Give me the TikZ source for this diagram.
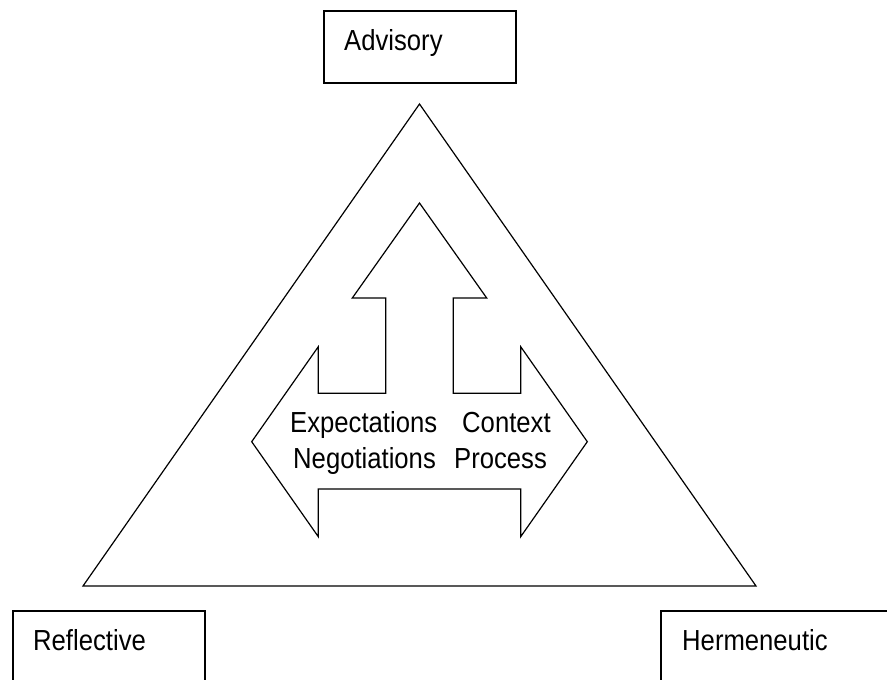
\documentclass[tikz,border=0pt]{standalone}
\usepackage{fontspec}
\setmainfont{Liberation Sans}[FakeStretch=0.885]
\begin{document}
\begin{tikzpicture}[x=1pt,y=-1pt,
  outline/.style={draw=black,line width=1.2pt,line join=miter},
  box/.style={draw=black,line width=1.6pt,anchor=north west,inner sep=0pt,minimum width=192pt,minimum height=72pt},
  lbl/.style={anchor=base west,inner sep=0pt,font=\fontsize{29}{35}\selectfont}]
\useasboundingbox (0,0) rectangle (887,680);
\clip (0,0) rectangle (887,680);
% boxes
\node[box] (advbox) at (323,10) {};
\node[box] (refbox) at (12,610) {};
\node[box,minimum width=260pt] (herbox) at (660,610) {};
\node[lbl] (adv) at (344,50) {Advisory};
\node[lbl] (ref) at (33,650) {Reflective};
\node[lbl] (her) at (682,650) {Hermeneutic};
% triangle
\coordinate (apex) at (419.5,104);
\coordinate (bl) at (83,586);
\coordinate (br) at (756,586);
\draw[outline] (apex) -- (bl) -- (br) -- cycle;
% three-way arrow
\draw[outline] (419.5,203) -- (352.3,298) -- (385.7,298) -- (385.7,393.3)
  -- (318.3,393.3) -- (318.3,346.7) -- (251.7,441.7) -- (318.3,536.7)
  -- (318.3,489) -- (520.7,489) -- (520.7,536.7) -- (587.3,441.7)
  -- (520.7,346.7) -- (520.7,393.3) -- (453.3,393.3) -- (453.3,298)
  -- (486.7,298) -- cycle;
\node[lbl] (exp) at (290,432) {Expectations};
\node[lbl] (ctx) at (462,432) {Context};
\node[lbl] (neg) at (293,468) {Negotiations};
\node[lbl] (pro) at (454,468) {Process};
\end{tikzpicture}
\end{document}
